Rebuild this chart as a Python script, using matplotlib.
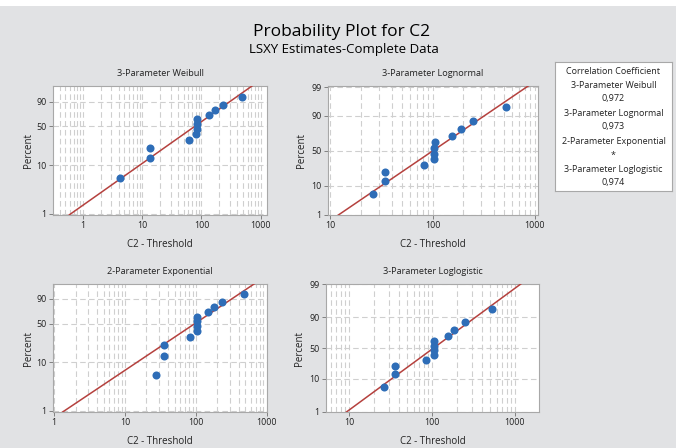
import numpy as np
import matplotlib
matplotlib.use("Agg")
import matplotlib.pyplot as plt
from matplotlib.ticker import FixedLocator, NullLocator, LogLocator, NullFormatter, FixedFormatter
from matplotlib.patches import Rectangle
from statistics import NormalDist

percent = [5.6, 13.7, 21.8, 29.8, 37.9, 46.0, 54.0, 62.1, 70.2, 78.2, 86.3, 94.4]

# C2 - threshold for each distribution
weibull_x = [4.17, 13.4, 13.4, 61.8, 82.3, 85.0, 85.0, 85.0, 133, 170, 232, 493]
lognormal_x = [26.1, 34.7, 34.7, 82.6, 103, 104, 104, 106, 154.5, 190.5, 251, 518]
expon_x = [27.6, 35.8, 35.8, 82.0, 103, 103, 103, 103, 150, 182, 234, 479]
loglog_x = [26.5, 35.3, 35.3, 83.9, 104.8, 104.8, 104.8, 104.8, 153.5, 186, 250, 525]

# fitted line parameters
weib_shape, weib_scale = 0.877, 116.6
logn_loc, logn_scale = np.log(100.6), 0.906
expo_mean = 139.0
llog_loc, llog_scale = np.log(104.2), 0.526

titles = ["3-Parameter Weibull", "3-Parameter Lognormal",
          "2-Parameter Exponential", "3-Parameter Loglogistic"]
corr_labels = ["3-Parameter Weibull", "0,972", "3-Parameter Lognormal", "0,973",
               "2-Parameter Exponential", "*", "3-Parameter Loglogistic", "0,974"]

plt.rcParams['font.family'] = ['Open Sans', 'DejaVu Sans']

nd = NormalDist()
_ppf = np.vectorize(nd.inv_cdf, otypes=[float])
_cdf = np.vectorize(nd.cdf, otypes=[float])


def _clip(p):
    return np.clip(np.asarray(p, float) / 100.0, 1e-12, 1 - 1e-12)


def weib_fwd(p):
    return np.log(-np.log(1 - _clip(p)))


def weib_inv(w):
    with np.errstate(over='ignore'):
        return 100 * (1 - np.exp(-np.exp(np.clip(w, -50, 5))))


def norm_fwd(p):
    return _ppf(_clip(p))


def norm_inv(z):
    return 100 * _cdf(np.clip(z, -30, 30))


def logit_fwd(p):
    p = _clip(p)
    return np.log(p / (1 - p))


def logit_inv(z):
    return 100 / (1 + np.exp(-np.clip(z, -50, 50)))


def weib_cdf(x):
    return 100 * (1 - np.exp(-(x / weib_scale) ** weib_shape))


def logn_cdf(x):
    return norm_inv((np.log(x) - logn_loc) / logn_scale)


def expo_cdf(x):
    return 100 * (1 - np.exp(-x / expo_mean))


def llog_cdf(x):
    return logit_inv((np.log(x) - llog_loc) / llog_scale)


W, H = 682, 448
fig = plt.figure(figsize=(W / 100, H / 100), dpi=100, facecolor='white')
fig.patches.append(Rectangle((0, 0), 676 / W, 442 / H, transform=fig.transFigure,
                             facecolor='#e1e2e4', edgecolor='none', zorder=-10))


def px_axes(l, t, r, b):
    return [l / W, 1 - b / H, (r - l) / W, (b - t) / H]


panels = [
    dict(pos=px_axes(53, 86, 267, 215), x=weibull_x, xlim=(0.31, 1280), xt=[1, 10, 100, 1000],
         f=(weib_fwd, weib_inv), ylim=(0.95, 99.25), yt=[1, 10, 50, 90], cdf=weib_cdf, lp=2),
    dict(pos=px_axes(328, 86, 538, 215), x=lognormal_x, xlim=(9.55, 1070), xt=[10, 100, 1000],
         f=(norm_fwd, norm_inv), ylim=(0.96, 99.1), yt=[1, 10, 50, 90, 99], cdf=logn_cdf, lp=3.5),
    dict(pos=px_axes(53, 284, 267, 412), x=expon_x, xlim=(0.96, 1010), xt=[1, 10, 100, 1000],
         f=(weib_fwd, weib_inv), ylim=(0.94, 99.15), yt=[1, 10, 50, 90], cdf=expo_cdf, lp=2),
    dict(pos=px_axes(326, 284, 539, 412), x=loglog_x, xlim=(5.24, 1950), xt=[10, 100, 1000],
         f=(logit_fwd, logit_inv), ylim=(0.99, 99.01), yt=[1, 10, 50, 90, 99], cdf=llog_cdf, lp=3.5),
]

grid_kw = dict(color='#cfcfcf', linestyle=(0, (5, 3)), linewidth=0.8)

for title, pn in zip(titles, panels):
    ax = fig.add_axes(pn['pos'])
    ax.set_facecolor('white')
    ax.set_xscale('log')
    ax.set_yscale('function', functions=pn['f'])
    ax.set_xlim(*pn['xlim'])
    ax.set_ylim(*pn['ylim'])

    ax.xaxis.set_major_locator(FixedLocator(pn['xt']))
    ax.xaxis.set_major_formatter(FixedFormatter([str(v) for v in pn['xt']]))
    ax.xaxis.set_minor_locator(LogLocator(base=10, subs=np.arange(2, 10)))
    ax.xaxis.set_minor_formatter(NullFormatter())
    ax.yaxis.set_major_locator(FixedLocator(pn['yt']))
    ax.yaxis.set_major_formatter(FixedFormatter([str(v) for v in pn['yt']]))
    ax.yaxis.set_minor_locator(NullLocator())

    ax.grid(True, which='both', axis='x', **grid_kw)
    ax.grid(True, which='major', axis='y', **grid_kw)
    ax.set_axisbelow(True)

    ax.tick_params(which='major', direction='out', length=3, width=0.7,
                   color='#808080', labelsize=6.4, pad=1.5, labelcolor='#222222')
    ax.tick_params(which='minor', length=0)
    for s in ax.spines.values():
        s.set_color('#a8a8a8')
        s.set_linewidth(0.8)

    xx = np.logspace(np.log10(pn['xlim'][0]), np.log10(pn['xlim'][1]), 400)
    ax.plot(xx, pn['cdf'](xx), color='#b5413e', linewidth=1.1, zorder=3)
    ax.plot(pn['x'], percent, 'o', color='#2e6db7', markersize=5.8,
            markeredgewidth=0, zorder=4)

    ax.set_title(title, fontsize=6.6, pad=7, color='#222222')
    ax.set_xlabel("C2 - Threshold", fontsize=7, labelpad=6, color='#222222')
    ax.set_ylabel("Percent", fontsize=7, labelpad=pn['lp'], color='#222222')

fig.text(342 / W, 1 - 32 / H, "Probability Plot for C2", ha='center', va='center',
         fontsize=12.5, color='#000000')
fig.text(344 / W, 1 - 49 / H, "LSXY Estimates-Complete Data", ha='center', va='center',
         fontsize=9.5, color='#000000')

# correlation coefficient box
lax = fig.add_axes(px_axes(555, 62, 672, 191))
lax.set_xticks([])
lax.set_yticks([])
lax.set_facecolor('white')
for s in lax.spines.values():
    s.set_color('#a8a8a8')
    s.set_linewidth(0.8)
lines = ["Correlation Coefficient"] + corr_labels
for i, txt in enumerate(lines):
    fig.text(613.5 / W, 1 - (71 + 14 * i) / H, txt, ha='center', va='center',
             fontsize=6.5, color='#222222')

fig.savefig("out.png", dpi=100, facecolor=fig.get_facecolor())
